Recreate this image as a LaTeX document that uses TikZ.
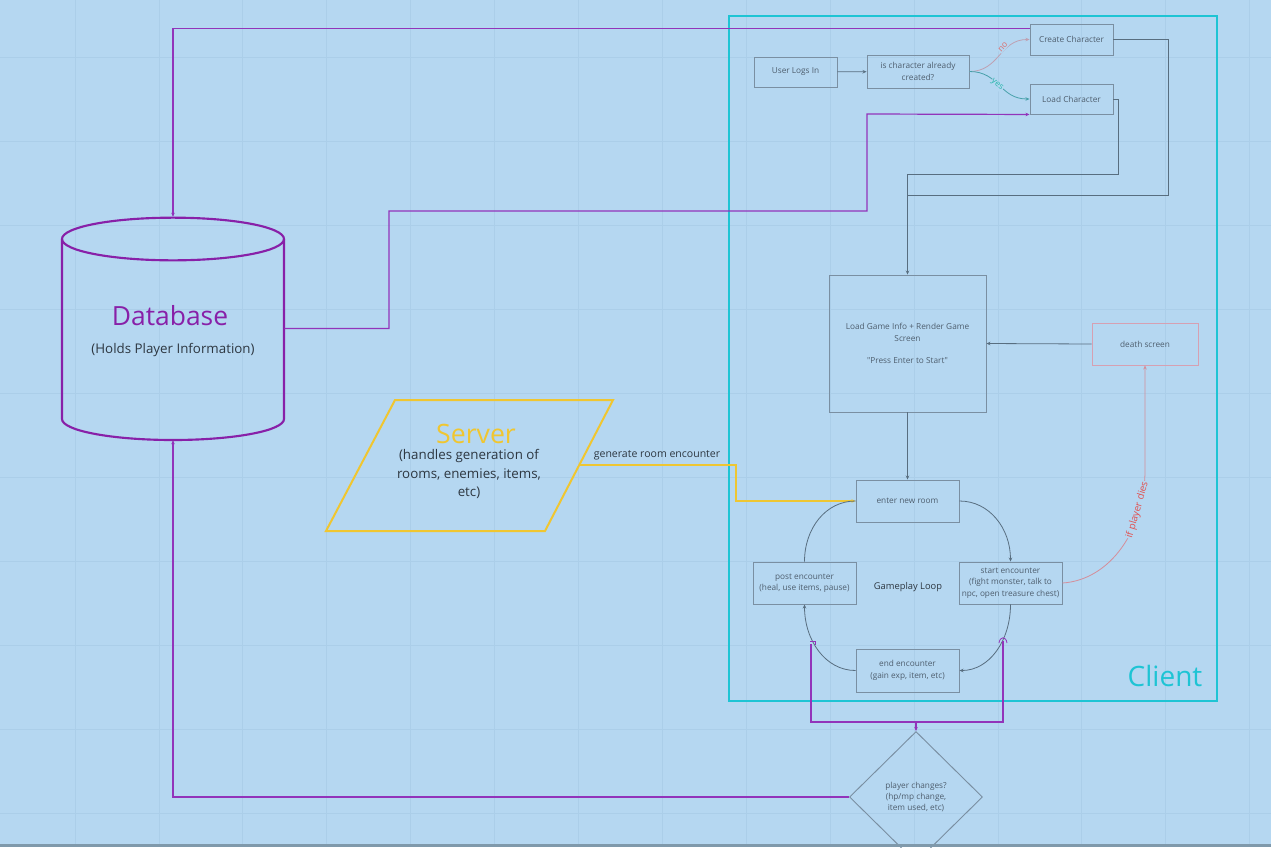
\documentclass[tikz,border=0pt]{standalone}
\usepackage{fontspec}
\setmainfont{Open Sans}
\newfontfamily\plainfont{Open Sans}
\usetikzlibrary{arrows.meta,shapes.geometric}
\definecolor{bgc}{RGB}{181,215,241}
\definecolor{gridc}{RGB}{171,206,233}
\definecolor{boxc}{RGB}{122,143,162}
\definecolor{boxtext}{RGB}{78,94,110}
\definecolor{connc}{RGB}{88,110,128}
\definecolor{purpc}{RGB}{146,52,186}
\definecolor{dbpurp}{RGB}{136,32,168}
\definecolor{yelc}{RGB}{240,198,48}
\definecolor{yelline}{RGB}{238,198,50}
\definecolor{cyanc}{RGB}{30,196,212}
\definecolor{deathc}{RGB}{214,160,178}
\definecolor{redline}{RGB}{212,142,154}
\definecolor{redtext}{RGB}{226,80,80}
\definecolor{noline}{RGB}{190,160,178}
\definecolor{notext}{RGB}{220,110,110}
\definecolor{yesline}{RGB}{70,160,170}
\definecolor{yestext}{RGB}{36,182,170}
\definecolor{darktext}{RGB}{45,55,65}
\definecolor{bandc}{RGB}{127,153,171}
\begin{document}
\begin{tikzpicture}[x=0.75pt,y=-0.75pt,
  box/.style={draw=boxc, line width=0.7pt, text=boxtext, align=center, inner sep=0pt,
    font=\fontsize{6.2}{8.6}\selectfont},
  arr/.style={-{Stealth[length=3pt,width=2.6pt]}},
  conn/.style={draw=connc, line width=0.6pt},
  purp/.style={draw=purpc, line width=0.9pt},
  lbl/.style={inner sep=0.5pt}]
\useasboundingbox (0,0) rectangle (1271,847);
\fill[bgc] (0,0) rectangle (1271,847);
\foreach \i in {0,...,14} \draw[gridc, line width=0.5pt] ({75+83.9*\i},0) -- ++(0,847);
\foreach \j in {0,...,9} \draw[gridc, line width=0.5pt] (0,{57+84*\j}) -- ++(1271,0);

% client frame
\draw[cyanc, line width=1.5pt] (729,16) rectangle (1217,701);
\node[text=cyanc, font=\fontsize{21}{24}\selectfont, inner sep=0] (clientlbl) at (1165,676) {Client};

% boxes
\node[box, minimum width=62.25pt, minimum height=22.5pt] (login) at (795.5,72) {User Logs In};
\node[box, minimum width=76.5pt, minimum height=24.75pt] (ischar) at (918,71.5) {is character already\\created?};
\node[box, minimum width=62.25pt, minimum height=23.25pt] (create) at (1071.5,39.5) {Create Character};
\node[box, minimum width=62.25pt, minimum height=22.5pt] (load) at (1071.5,99) {Load Character};
\node[box, minimum width=117.75pt, minimum height=102.75pt] (gameinfo) at (907.5,343.5)
  {Load Game Info + Render Game\\Screen\\[8.3pt]{\plainfont "Press Enter to Start"}};
\node[box, draw=deathc, minimum width=79.5pt, minimum height=31.5pt] (death) at (1145,344) {death screen};
\node[box, minimum width=77.25pt, minimum height=31.5pt] (enter) at (907.5,501) {enter new room};
\node[box, minimum width=77.25pt, minimum height=31.5pt] (post) at (804.5,583) {post encounter\\(heal, use items, pause)};
\node[box, minimum width=77.25pt, minimum height=31.5pt] (start) at (1010.5,583) {start encounter\\(fight monster, talk to\\npc, open treasure chest)};
\node[box, minimum width=77.25pt, minimum height=32.25pt] (endenc) at (907.5,670.5) {end encounter\\(gain exp, item, etc)};
\node[text=darktext, font=\fontsize{7}{9}\selectfont] (loop) at (908,587) {Gameplay Loop};
\node[box, shape=diamond, aspect=1, minimum width=99.75pt, minimum height=98.25pt] (diam) at (916,797)
  {player changes?\\(hp/mp change,\\item used, etc)};

% database cylinder
\node[minimum width=166.5pt, minimum height=167.25pt, inner sep=0] (db) at (173,328.5) {};
\draw[dbpurp, line width=1.6pt] (62,239) -- (62,419) arc[start angle=180, end angle=360, x radius=83.25pt, y radius=15.75pt] -- (284,239);
\draw[dbpurp, line width=1.6pt] (173,239) ellipse [x radius=83.25pt, y radius=16pt];
\node[text=dbpurp, font=\fontsize{19.8}{22}\selectfont] (dbtitle) at (170,316) {Database};
\node[text=darktext, font=\fontsize{10}{12}\selectfont] (dbsub) at (173,349.5) {(Holds Player Information)};

% server parallelogram
\draw[yelc, line width=1.5pt] (395,400) -- (613,400) -- (545,531) -- (326,531) -- cycle;
\node[text=yelc, font=\fontsize{20}{22}\selectfont, inner sep=0] (srvtitle) at (476,434) {Server};
\node[text=darktext, align=center, font=\fontsize{10}{13.9}\selectfont, inner sep=0] (srvsub) at (469,474)
  {(handles generation of\\rooms, enemies, items,\\etc)};
\coordinate (srvR) at (580,465);

% top flow
\draw[conn, arr] (login) -- (ischar);
\draw[draw=noline, line width=0.6pt, arr] (ischar.east) .. controls +(30,0) and +(-30,0) .. (create.west);
\draw[draw=yesline, line width=0.6pt, arr] (ischar.east) .. controls +(30,0) and +(-30,0) .. (load.west);
\node[lbl, fill=bgc, text=notext, rotate=48, font=\fontsize{6.3}{7}\selectfont] (nolbl) at (1003,47.5) {no};
\node[lbl, fill=bgc, text=yestext, rotate=-40, font=\fontsize{6.3}{7}\selectfont] (yeslbl) at (997,85) {yes};

\draw[conn] (load.east) -- ++(5,0) |- (907.5,174) -- (907.5,195);
\draw[conn, arr] (create.east) -- ++(55,0) |- (907.5,195) -- (gameinfo.north);

% purple database links
\draw[purp, arr] ([yshift=-3.75pt]create.north west) -| (db.north);
\draw[purp, arr] (db.east) -- (389,328.5) -- (389,211) -- (867,211) -- (867,114) -- (load.south west);

% middle
\draw[conn, arr] (gameinfo.south) -- (enter.north);
\draw[conn, arr] (death.west) -- (gameinfo.east);
\draw[draw=redline, line width=0.6pt, arr] (start.east) .. controls (1110,580) and (1145,530) .. (1145,470) -- (death.south);
\node[lbl, fill=bgc, text=redtext, rotate=74, font=\fontsize{7.4}{8}\selectfont] (dieslbl) at (1137.5,510) {if player dies};

% server to room
\draw[yelline, line width=0.85pt, arr] (srvR) -- (736,465) -- (736,501) -- (enter.west);
\node[text=darktext, font=\fontsize{7.9}{9}\selectfont, inner sep=0] (genlbl) at (657,455) {generate room encounter};

% gameplay loop
\draw[conn, arr] (enter.east) .. controls +(30,0) and +(0,-33) .. (start.north);
\draw[conn, arr] (start.south) .. controls +(0,36) and +(30,0) .. (endenc.east);
\draw[conn, arr] (endenc.west) .. controls +(-30,0) and +(0,36) .. (post.south);
\draw[conn] (post.north) .. controls +(0,-33) and +(-30,0) .. (enter.west);

% purple to diamond
\coordinate (hopL) at (811,644);
\coordinate (hopR) at (1003,641);
\coordinate (join) at (916,722);
\draw[purp] (hopL) -- (811,722) -- (1003,722) -- (hopR);
\draw[purpc, line width=0.6pt] (810,641) -- (815,641) -- (815,645);
\draw[purpc, line width=0.6pt] (999,643) .. controls (1000,636) and (1006,636) .. (1007,643);
\draw[purp, arr] (join) -- (diam.north);
\draw[purp, arr] (diam.west) -| (db.south);

% bottom band
\fill[bandc] (0,844) rectangle (1271,847);
\end{tikzpicture}
\end{document}
